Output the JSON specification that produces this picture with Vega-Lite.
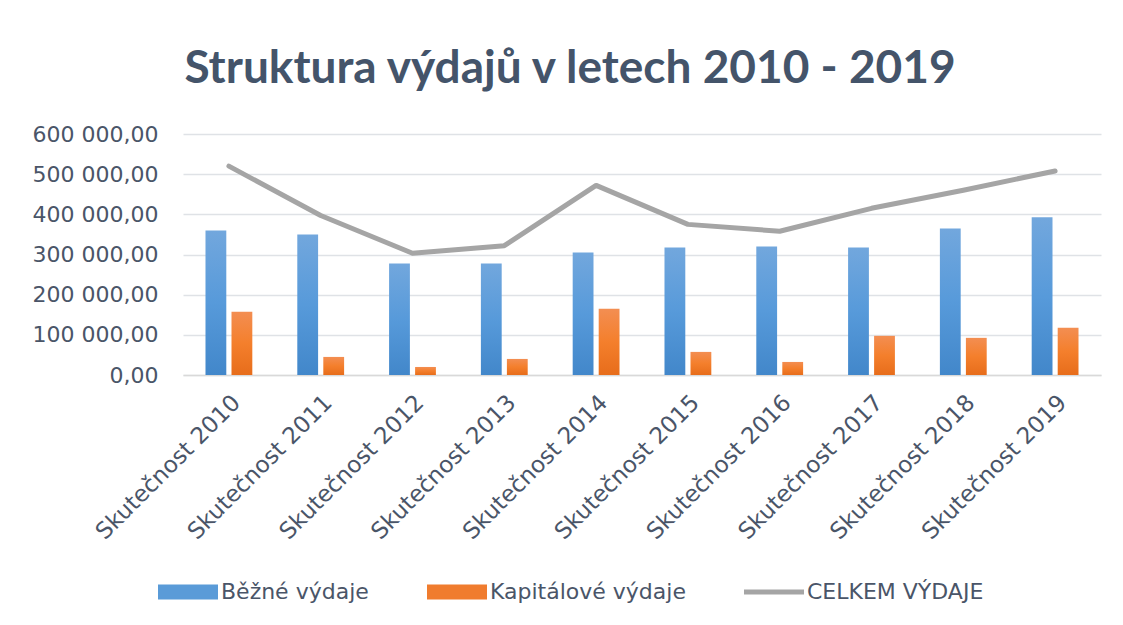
{
  "$schema": "https://vega.github.io/schema/vega-lite/v6.json",
  "width": 918,
  "height": 241,
  "autosize": {"type": "none"},
  "padding": {"left": 183, "top": 134, "right": 22, "bottom": 250},
  "background": "white",
  "title": {
    "text": "Struktura výdajů v letech 2010 - 2019",
    "font": "Lato",
    "fontSize": 46,
    "fontWeight": "bold",
    "color": "#44546A",
    "anchor": "middle",
    "frame": "group",
    "baseline": "alphabetic",
    "offset": -6,
    "dx": -72
  },
  "data": {
    "values": [
      {"rok": "Skutečnost 2010", "serie": "Běžné výdaje", "hodnota": 360000},
      {"rok": "Skutečnost 2011", "serie": "Běžné výdaje", "hodnota": 350000},
      {"rok": "Skutečnost 2012", "serie": "Běžné výdaje", "hodnota": 277500},
      {"rok": "Skutečnost 2013", "serie": "Běžné výdaje", "hodnota": 277500},
      {"rok": "Skutečnost 2014", "serie": "Běžné výdaje", "hodnota": 305000},
      {"rok": "Skutečnost 2015", "serie": "Běžné výdaje", "hodnota": 317500},
      {"rok": "Skutečnost 2016", "serie": "Běžné výdaje", "hodnota": 320000},
      {"rok": "Skutečnost 2017", "serie": "Běžné výdaje", "hodnota": 317500},
      {"rok": "Skutečnost 2018", "serie": "Běžné výdaje", "hodnota": 365000},
      {"rok": "Skutečnost 2019", "serie": "Běžné výdaje", "hodnota": 392500},
      {"rok": "Skutečnost 2010", "serie": "Kapitálové výdaje", "hodnota": 157500},
      {"rok": "Skutečnost 2011", "serie": "Kapitálové výdaje", "hodnota": 45000},
      {"rok": "Skutečnost 2012", "serie": "Kapitálové výdaje", "hodnota": 20000},
      {"rok": "Skutečnost 2013", "serie": "Kapitálové výdaje", "hodnota": 40000},
      {"rok": "Skutečnost 2014", "serie": "Kapitálové výdaje", "hodnota": 165000},
      {"rok": "Skutečnost 2015", "serie": "Kapitálové výdaje", "hodnota": 57500},
      {"rok": "Skutečnost 2016", "serie": "Kapitálové výdaje", "hodnota": 32500},
      {"rok": "Skutečnost 2017", "serie": "Kapitálové výdaje", "hodnota": 97500},
      {"rok": "Skutečnost 2018", "serie": "Kapitálové výdaje", "hodnota": 92500},
      {"rok": "Skutečnost 2019", "serie": "Kapitálové výdaje", "hodnota": 117500},
      {"rok": "Skutečnost 2010", "serie": "CELKEM VÝDAJE", "hodnota": 520000},
      {"rok": "Skutečnost 2011", "serie": "CELKEM VÝDAJE", "hodnota": 397000},
      {"rok": "Skutečnost 2012", "serie": "CELKEM VÝDAJE", "hodnota": 303000},
      {"rok": "Skutečnost 2013", "serie": "CELKEM VÝDAJE", "hodnota": 322000},
      {"rok": "Skutečnost 2014", "serie": "CELKEM VÝDAJE", "hodnota": 472000},
      {"rok": "Skutečnost 2015", "serie": "CELKEM VÝDAJE", "hodnota": 375000},
      {"rok": "Skutečnost 2016", "serie": "CELKEM VÝDAJE", "hodnota": 358000},
      {"rok": "Skutečnost 2017", "serie": "CELKEM VÝDAJE", "hodnota": 415000},
      {"rok": "Skutečnost 2018", "serie": "CELKEM VÝDAJE", "hodnota": 460000},
      {"rok": "Skutečnost 2019", "serie": "CELKEM VÝDAJE", "hodnota": 508000}
    ]
  },
  "encoding": {
    "x": {
      "field": "rok",
      "type": "nominal",
      "sort": null,
      "title": null,
      "scale": {"paddingInner": 0.49, "paddingOuter": 0.245},
      "axis": {
        "labelAngle": -45,
        "labelFont": "DejaVu Sans",
        "labelFontSize": 23,
        "labelColor": "#4a5568",
        "labelPadding": 16,
        "labelLimit": 400,
        "ticks": false,
        "domain": true,
        "domainColor": "#d9d9d9",
        "domainWidth": 1.5
      }
    },
    "y": {
      "field": "hodnota",
      "type": "quantitative",
      "title": null,
      "scale": {"domain": [0, 600000], "nice": false},
      "axis": {
        "values": [0, 100000, 200000, 300000, 400000, 500000, 600000],
        "labelExpr": "replace(replace(format(datum.value, ',.2f'), regexp(',', 'g'), ' '), '.', ',')",
        "labelFont": "DejaVu Sans",
        "labelFontSize": 22,
        "labelColor": "#4a5568",
        "labelPadding": 25,
        "ticks": false,
        "domain": false,
        "grid": true,
        "gridColor": "#dfe2e6",
        "gridWidth": 1.5
      }
    }
  },
  "layer": [
    {
      "transform": [{"filter": "datum.serie !== 'CELKEM VÝDAJE'"}],
      "mark": {"type": "bar"},
      "encoding": {
        "xOffset": {
          "field": "serie",
          "type": "nominal",
          "scale": {"domain": ["Běžné výdaje", "Kapitálové výdaje"], "paddingInner": 0.2, "paddingOuter": 0}
        },
        "fill": {
          "condition": {
            "test": "datum.serie === 'Běžné výdaje'",
            "value": {"gradient": "linear", "x1": 0, "y1": 0, "x2": 0, "y2": 1, "stops": [{"offset": 0, "color": "#72a7dd"}, {"offset": 0.5, "color": "#579ada"}, {"offset": 1, "color": "#4287ca"}]}
          },
          "value": {"gradient": "linear", "x1": 0, "y1": 0, "x2": 0, "y2": 1, "stops": [{"offset": 0, "color": "#f38e52"}, {"offset": 0.5, "color": "#f47f2c"}, {"offset": 1, "color": "#e76d1b"}]}
        }
      }
    },
    {
      "transform": [{"filter": "datum.serie === 'CELKEM VÝDAJE'"}],
      "mark": {"type": "line", "strokeWidth": 5, "strokeCap": "round", "strokeJoin": "round"},
      "encoding": {
        "color": {
          "field": "serie",
          "type": "nominal",
          "scale": {
            "domain": ["Běžné výdaje", "Kapitálové výdaje", "CELKEM VÝDAJE"],
            "range": ["#5a9bd8", "#f07c2e", "#a5a5a5"]
          },
          "legend": {
            "title": null,
            "orient": "none",
            "direction": "horizontal",
            "legendX": -25,
            "legendY": 428,
            "symbolSize": 3600,
            "symbolStrokeWidth": 0,
            "labelFont": "DejaVu Sans",
            "labelFontSize": 22,
            "labelColor": "#4a5568",
            "labelOffset": 3,
            "labelLimit": 400,
            "columnPadding": 58,
            "encode": {
              "symbols": {
                "update": {
                  "shape": {"signal": "datum.label === 'CELKEM VÝDAJE' ? 'M-1,-0.085H1V0.085H-1Z' : 'M-1,-0.25H1V0.25H-1Z'"},
                  "fill": {"scale": "color", "field": "value"},
                  "strokeWidth": {"value": 0},
                  "opacity": {"value": 1}
                }
              }
            }
          }
        }
      }
    }
  ],
  "config": {"view": {"stroke": null}}
}
